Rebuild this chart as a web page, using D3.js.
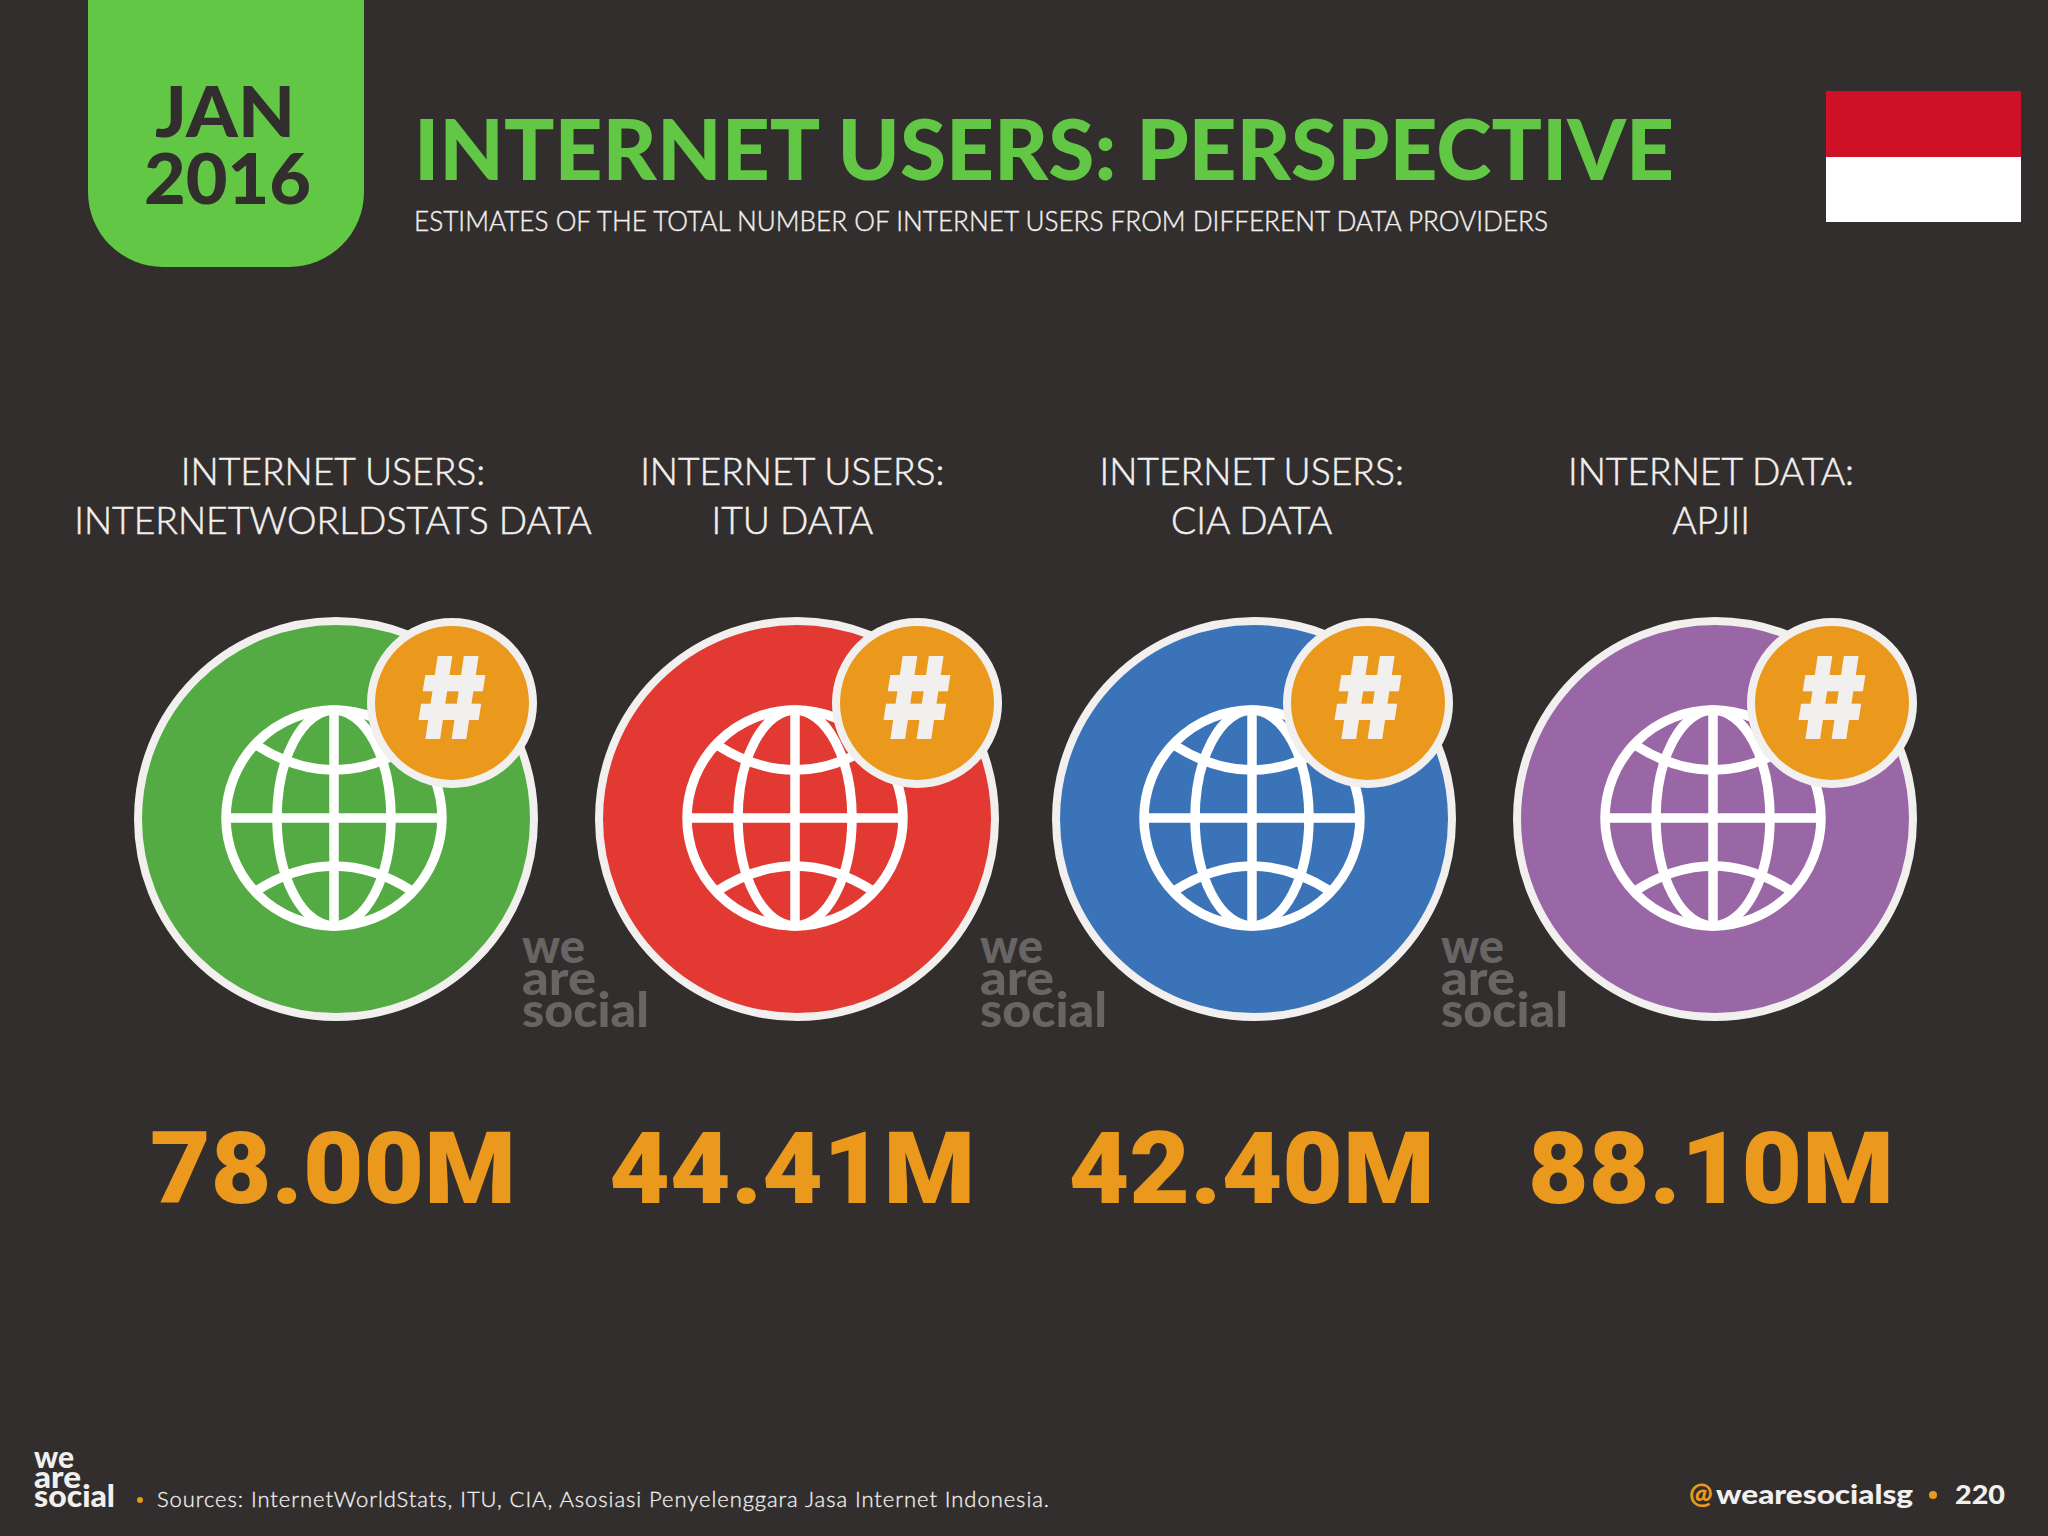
<!DOCTYPE html>
<html>
<head>
<meta charset="utf-8">
<title>Internet users: perspective</title>
<script src="https://cdn.jsdelivr.net/npm/d3@7"></script>
<style>
  html, body { margin: 0; padding: 0; background: #332e2e; }
  svg { display: block; }
  text { font-family: Lato, "Noto Sans", sans-serif; }
</style>
</head>
<body>
<div id="chart"></div>
<script>
// data
const providers = ["InternetWorldStats", "ITU", "CIA", "APJII"];
const labelFirstLines = ["INTERNET USERS:", "INTERNET USERS:", "INTERNET USERS:", "INTERNET DATA:"];
const labelSecondLines = ["INTERNETWORLDSTATS DATA", "ITU DATA", "CIA DATA", "APJII"];
const usersMillions = [78.0, 44.41, 42.4, 88.1];

const width = 2048;
const height = 1536;

const background = "#332e2e";
const tabGreen = "#62c744";
const orange = "#ea991d";
const offWhite = "#f2f0ee";

const svg = d3
  .select("#chart")
  .append("svg")
  .attr("width", width)
  .attr("height", height)
  .attr("viewBox", [0, 0, width, height]);

svg.append("rect").attr("width", width).attr("height", height).attr("fill", background);

// header
const tabPath = d3.path();
tabPath.moveTo(88, 0);
tabPath.lineTo(88, 192);
tabPath.arcTo(88, 267, 163, 267, 75);
tabPath.lineTo(289, 267);
tabPath.arcTo(364, 267, 364, 192, 75);
tabPath.lineTo(364, 0);
tabPath.closePath();
svg.append("path").attr("d", tabPath.toString()).attr("fill", tabGreen);

svg.append("text")
  .attr("x", 155).attr("y", 137)
  .attr("font-size", 70).attr("font-weight", 900)
  .attr("textLength", 140).attr("lengthAdjust", "spacingAndGlyphs")
  .attr("fill", background)
  .text("JAN");

svg.append("text")
  .attr("x", 144).attr("y", 204)
  .attr("font-size", 70).attr("font-weight", 900)
  .attr("textLength", 167).attr("lengthAdjust", "spacingAndGlyphs")
  .attr("fill", background)
  .text("2016");

svg.append("text")
  .attr("x", 414).attr("y", 180)
  .attr("font-size", 83).attr("font-weight", 900)
  .attr("textLength", 1260).attr("lengthAdjust", "spacingAndGlyphs")
  .attr("fill", tabGreen)
  .text("INTERNET USERS: PERSPECTIVE");

// Lato has nothing between light and regular, a hairline stroke gets close
svg.append("text")
  .attr("x", 414).attr("y", 231)
  .attr("font-size", 28).attr("font-weight", 300)
  .attr("textLength", 1134).attr("lengthAdjust", "spacingAndGlyphs")
  .attr("fill", offWhite)
  .attr("stroke", offWhite).attr("stroke-width", 0.4)
  .text("ESTIMATES OF THE TOTAL NUMBER OF INTERNET USERS FROM DIFFERENT DATA PROVIDERS");

// flag
svg.append("rect").attr("x", 1826).attr("y", 91).attr("width", 195).attr("height", 66).attr("fill", "#ce1126");
svg.append("rect").attr("x", 1826).attr("y", 157).attr("width", 195).attr("height", 65).attr("fill", "#ffffff");

// columns are not quite evenly spaced on the slide, so these are ordinal
const circleX = d3.scaleOrdinal().domain(providers).range([336, 797, 1254, 1715]);
const badgeX = d3.scaleOrdinal().domain(providers).range([452, 917, 1368, 1832]);
const textX = d3.scalePoint().domain(providers).range([333, 1711]);
const markX = d3.scaleOrdinal().domain(providers).range([522, 980, 1441]);
const circleColour = d3.scaleOrdinal().domain(providers).range(["#55ab43", "#e23a33", "#3b73b9", "#9a67a6"]);
const formatValue = (v) => d3.format(".2f")(v) + "M";

const columns = svg
  .selectAll("g.column")
  .data(providers)
  .join("g")
  .attr("class", "column");

columns.append("text")
  .attr("x", (d) => textX(d)).attr("y", 485)
  .attr("text-anchor", "middle")
  .attr("font-size", 37.3).attr("font-weight", 300)
  .attr("fill", offWhite)
  .attr("stroke", offWhite).attr("stroke-width", 0.5)
  .text((d, i) => labelFirstLines[i]);

columns.append("text")
  .attr("x", (d) => textX(d)).attr("y", 534)
  .attr("text-anchor", "middle")
  .attr("font-size", 37.3).attr("font-weight", 300)
  .attr("fill", offWhite)
  .attr("stroke", offWhite).attr("stroke-width", 0.5)
  .text((d, i) => labelSecondLines[i]);

columns.append("circle")
  .attr("cx", (d) => circleX(d)).attr("cy", 819)
  .attr("r", 198)
  .attr("fill", (d) => circleColour(d))
  .attr("stroke", offWhite).attr("stroke-width", 8);

// globe icon
const globes = columns.append("g")
  .attr("transform", (d) => `translate(${circleX(d) - 2},818)`)
  .attr("fill", "none")
  .attr("stroke", "#ffffff")
  .attr("stroke-width", 9.5);

globes.append("circle").attr("r", 108);
globes.append("ellipse").attr("rx", 57).attr("ry", 108);
globes.append("line").attr("x1", -108).attr("x2", 108);
globes.append("line").attr("y1", -108).attr("y2", 108);

[-1, 1].forEach((side) => {
  const arc = d3.path();
  arc.moveTo(-78, side * 73);
  arc.quadraticCurveTo(0, side * 23, 78, side * 73);
  globes.append("path").attr("d", arc.toString());
});

// hash badge
columns.append("circle")
  .attr("cx", (d) => badgeX(d)).attr("cy", 703)
  .attr("r", 81)
  .attr("fill", orange)
  .attr("stroke", offWhite).attr("stroke-width", 8);

columns.append("text")
  .attr("x", (d) => badgeX(d) - 34).attr("y", 739)
  .attr("font-size", 114).attr("font-weight", 900)
  .attr("textLength", 68).attr("lengthAdjust", "spacingAndGlyphs")
  .attr("fill", offWhite)
  .style("font-family", "Inter")
  .text("#");

columns.append("text")
  .attr("x", (d) => textX(d)).attr("y", 1203)
  .attr("text-anchor", "middle")
  .attr("font-size", 101).attr("font-weight", 900)
  .attr("textLength", 366).attr("lengthAdjust", "spacingAndGlyphs")
  .attr("fill", orange)
  .style("font-family", "Roboto")
  .text((d, i) => formatValue(usersMillions[i]));

// watermarks sit between the circles, so the last column has none
const marks = svg
  .selectAll("g.mark")
  .data(providers.slice(0, 3))
  .join("g")
  .attr("class", "mark")
  .attr("transform", (d) => `translate(${markX(d)},0)`)
  .attr("fill", "#686565")
  .attr("font-size", 47).attr("font-weight", 900);

marks.append("text").attr("y", 963).attr("textLength", 63).attr("lengthAdjust", "spacingAndGlyphs").text("we");
marks.append("text").attr("y", 995).attr("textLength", 74).attr("lengthAdjust", "spacingAndGlyphs").text("are");
marks.append("text").attr("y", 1027).attr("textLength", 127).attr("lengthAdjust", "spacingAndGlyphs").text("social");

// footer
const logo = svg.append("g")
  .attr("fill", offWhite)
  .attr("font-size", 30).attr("font-weight", 900);
logo.append("text").attr("x", 34).attr("y", 1468).attr("textLength", 40).attr("lengthAdjust", "spacingAndGlyphs").text("we");
logo.append("text").attr("x", 34).attr("y", 1488).attr("textLength", 47).attr("lengthAdjust", "spacingAndGlyphs").text("are");
logo.append("text").attr("x", 34).attr("y", 1507).attr("textLength", 81).attr("lengthAdjust", "spacingAndGlyphs").text("social");

svg.append("circle").attr("cx", 140).attr("cy", 1500).attr("r", 3).attr("fill", orange);

svg.append("text")
  .attr("x", 157).attr("y", 1507)
  .attr("font-size", 22).attr("font-weight", 300)
  .attr("textLength", 892).attr("lengthAdjust", "spacing")
  .attr("fill", offWhite)
  .attr("stroke", offWhite).attr("stroke-width", 0.3)
  .text("Sources: InternetWorldStats, ITU, CIA, Asosiasi Penyelenggara Jasa Internet Indonesia.");

svg.append("text")
  .attr("x", 1689).attr("y", 1504)
  .attr("font-size", 28).attr("font-weight", 900)
  .attr("fill", orange)
  .text("@");

svg.append("text")
  .attr("x", 1716).attr("y", 1504)
  .attr("font-size", 27).attr("font-weight", 900)
  .attr("textLength", 197).attr("lengthAdjust", "spacingAndGlyphs")
  .attr("fill", offWhite)
  .text("wearesocialsg");

svg.append("circle").attr("cx", 1933).attr("cy", 1495).attr("r", 4).attr("fill", orange);

svg.append("text")
  .attr("x", 1955).attr("y", 1504)
  .attr("font-size", 27).attr("font-weight", 900)
  .attr("textLength", 50).attr("lengthAdjust", "spacingAndGlyphs")
  .attr("fill", offWhite)
  .text("220");
</script>
</body>
</html>
